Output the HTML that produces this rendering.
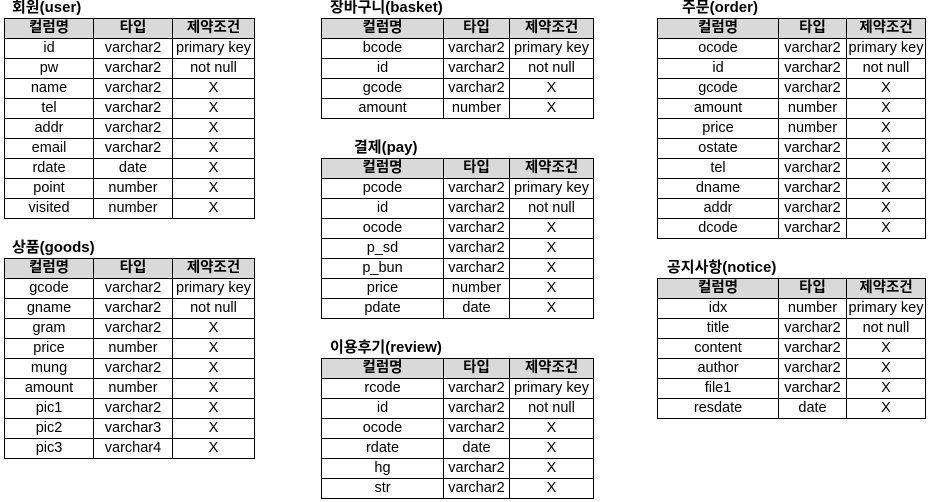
<!DOCTYPE html>
<html><head><meta charset="utf-8">
<style>
body{margin:0;width:932px;height:502px;background:#fff;position:relative;overflow:hidden;font-family:"Liberation Sans","Noto Sans CJK KR",sans-serif;color:#000}
.t{position:absolute;font-size:15px;font-weight:bold;line-height:16px;white-space:nowrap}
table{position:absolute;border-collapse:collapse;table-layout:fixed;font-size:14.5px}
td,th{border:1px solid #000;height:19px;padding:0;text-align:center;line-height:19px;white-space:nowrap;overflow:hidden}
th{background:#d9d9d9;font-weight:bold}
</style></head><body>
<div id="root"></div>
<script>
const tables=[
 {name:'회원(user)',key:'user',x:4,y:18,tx:12,cols:[89,79,82],rows:[['id','varchar2','primary key'],['pw','varchar2','not null'],['name','varchar2','X'],['tel','varchar2','X'],['addr','varchar2','X'],['email','varchar2','X'],['rdate','date','X'],['point','number','X'],['visited','number','X']]},
 {name:'상품(goods)',key:'goods',x:4,y:258,tx:12,cols:[89,79,82],rows:[['gcode','varchar2','primary key'],['gname','varchar2','not null'],['gram','varchar2','X'],['price','number','X'],['mung','varchar2','X'],['amount','number','X'],['pic1','varchar2','X'],['pic2','varchar3','X'],['pic3','varchar4','X']]},
 {name:'장바구니(basket)',key:'basket',x:321,y:18,tx:330,cols:[122,66,84],rows:[['bcode','varchar2','primary key'],['id','varchar2','not null'],['gcode','varchar2','X'],['amount','number','X']]},
 {name:'결제(pay)',key:'pay',x:321,y:158,tx:354,cols:[122,66,84],rows:[['pcode','varchar2','primary key'],['id','varchar2','not null'],['ocode','varchar2','X'],['p_sd','varchar2','X'],['p_bun','varchar2','X'],['price','number','X'],['pdate','date','X']]},
 {name:'이용후기(review)',key:'review',x:321,y:358,tx:330,cols:[122,66,84],rows:[['rcode','varchar2','primary key'],['id','varchar2','not null'],['ocode','varchar2','X'],['rdate','date','X'],['hg','varchar2','X'],['str','varchar2','X']]},
 {name:'주문(order)',key:'order',x:657,y:18,tx:682,cols:[121,68,79],rows:[['ocode','varchar2','primary key'],['id','varchar2','not null'],['gcode','varchar2','X'],['amount','number','X'],['price','number','X'],['ostate','varchar2','X'],['tel','varchar2','X'],['dname','varchar2','X'],['addr','varchar2','X'],['dcode','varchar2','X']]},
 {name:'공지사항(notice)',key:'notice',x:657,y:278,tx:667,cols:[121,68,79],rows:[['idx','number','primary key'],['title','varchar2','not null'],['content','varchar2','X'],['author','varchar2','X'],['file1','varchar2','X'],['resdate','date','X']]}
];
const root=document.getElementById('root');
tables.forEach(t=>{
 const title=document.createElement('div');
 title.className='t';title.style.left=t.tx+'px';title.style.top=(t.y-18)+'px';title.textContent=t.name;
 
 
 root.appendChild(title);
 const tb=document.createElement('table');
 tb.style.left=t.x+'px';tb.style.top=t.y+'px';tb.style.width=t.cols.reduce((a,b)=>a+b,0)+'px';
 
 
 const cg=document.createElement('colgroup');
 t.cols.forEach(w=>{const c=document.createElement('col');c.style.width=w+'px';cg.appendChild(c);});
 tb.appendChild(cg);
 const hr=document.createElement('tr');
 
 
 ['컬럼명','타입','제약조건'].forEach(h=>{const th=document.createElement('th');th.textContent=h;hr.appendChild(th);});
 tb.appendChild(hr);
 t.rows.forEach(r=>{
  const tr=document.createElement('tr');
  
  
  r.forEach(v=>{const td=document.createElement('td');td.textContent=v;tr.appendChild(td);});
  tb.appendChild(tr);
 });
 root.appendChild(tb);
});
</script>
</body></html>
